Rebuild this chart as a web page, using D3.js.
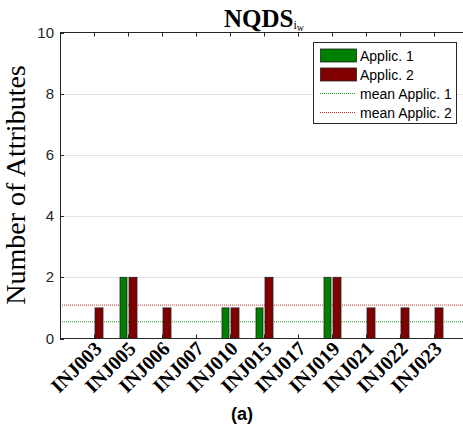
<!DOCTYPE html>
<html>
<head>
<meta charset="utf-8">
<script src="https://cdn.jsdelivr.net/npm/d3@7"></script>
<style>
  body { margin: 0; background: #fff; }
  svg { display: block; }
</style>
</head>
<body>
<svg id="chart"></svg>
<script>
var width = 463,
    height = 432

var categories = ["INJ003", "INJ005", "INJ006", "INJ007", "INJ010", "INJ015",
                  "INJ017", "INJ019", "INJ021", "INJ022", "INJ023"]
var applic1 = [0, 2, 0, 0, 1, 1, 0, 2, 0, 0, 0]
var applic2 = [1, 2, 1, 0, 1, 2, 0, 2, 1, 1, 1]
var yTicks = [0, 2, 4, 6, 8, 10]
var legendLabels = ["Applic. 1", "Applic. 2", "mean Applic. 1", "mean Applic. 2"]

var green = "#008000",
    red = "#800000",
    axisColor = "#262626"

var svg = d3.select("#chart")
    .attr("width", width)
    .attr("height", height)

var plotLeft = 60, plotRight = 468, plotTop = 32.5, plotBottom = 338.5

var x = d3.scalePoint()
    .domain(categories)
    .range([plotLeft, plotRight])
    .padding(1)

var y = d3.scaleLinear()
    .domain([0, 10])
    .range([plotBottom, plotTop])

// grid lines
svg.append("g")
    .selectAll("line")
    .data(yTicks.filter(function (d) { return d > 0 && d < 10 }))
    .enter().append("line")
    .attr("x1", plotLeft)
    .attr("x2", plotRight)
    .attr("y1", function (d) { return Math.round(y(d)) + 0.5 })
    .attr("y2", function (d) { return Math.round(y(d)) + 0.5 })
    .attr("stroke", "#e3e3e3")
    .attr("stroke-width", 1)

// mean lines
var mean1 = d3.mean(applic1),
    mean2 = d3.mean(applic2)
svg.append("line")
    .attr("x1", plotLeft).attr("x2", plotRight)
    .attr("y1", y(mean1)).attr("y2", y(mean1))
    .attr("stroke", "#1a9a1a")
    .attr("stroke-width", 1)
    .attr("stroke-dasharray", "1,1")
svg.append("line")
    .attr("x1", plotLeft).attr("x2", plotRight)
    .attr("y1", y(mean2)).attr("y2", y(mean2))
    .attr("stroke", "#c03030")
    .attr("stroke-width", 1)
    .attr("stroke-dasharray", "1,1")

// bars
var bars = svg.append("g")
bars.selectAll(".b1")
    .data(categories)
    .enter().append("rect")
    .attr("x", function (d) { return Math.round(x(d)) - 8 })
    .attr("y", function (d, i) { return y(applic1[i]) })
    .attr("width", 7)
    .attr("height", function (d, i) { return y(0) - y(applic1[i]) })
    .attr("fill", green)
    .attr("stroke", "#222")
    .attr("stroke-width", 0.8)
bars.selectAll(".b2")
    .data(categories)
    .enter().append("rect")
    .attr("x", function (d) { return Math.round(x(d)) + 1 })
    .attr("y", function (d, i) { return y(applic2[i]) })
    .attr("width", 8)
    .attr("height", function (d, i) { return y(0) - y(applic2[i]) })
    .attr("fill", red)
    .attr("stroke", "#222")
    .attr("stroke-width", 0.8)

// axes
var axisG = svg.append("g")
    .attr("stroke", axisColor)
    .attr("stroke-width", 1)
axisG.append("line").attr("x1", plotLeft).attr("x2", plotRight).attr("y1", plotBottom).attr("y2", plotBottom)
axisG.append("line").attr("x1", plotLeft).attr("x2", plotRight).attr("y1", plotTop).attr("y2", plotTop)
axisG.append("line").attr("x1", plotLeft + 0.5).attr("x2", plotLeft + 0.5).attr("y1", plotTop).attr("y2", plotBottom)

axisG.selectAll(".xt")
    .data(categories)
    .enter().append("line")
    .attr("x1", function (d) { return Math.round(x(d)) + 0.5 })
    .attr("x2", function (d) { return Math.round(x(d)) + 0.5 })
    .attr("y1", plotBottom).attr("y2", plotBottom - 4)
axisG.selectAll(".xtt")
    .data(categories)
    .enter().append("line")
    .attr("x1", function (d) { return Math.round(x(d)) + 0.5 })
    .attr("x2", function (d) { return Math.round(x(d)) + 0.5 })
    .attr("y1", plotTop).attr("y2", plotTop + 4)
axisG.selectAll(".yt")
    .data(yTicks)
    .enter().append("line")
    .attr("x1", plotLeft).attr("x2", plotLeft + 4)
    .attr("y1", function (d) { return Math.round(y(d)) + 0.5 })
    .attr("y2", function (d) { return Math.round(y(d)) + 0.5 })

// y tick labels
svg.append("g")
    .selectAll("text")
    .data(yTicks)
    .enter().append("text")
    .attr("x", plotLeft - 6)
    .attr("y", function (d) { return y(d) + 5 })
    .attr("text-anchor", "end")
    .attr("font-family", "Liberation Sans, Arial, sans-serif")
    .attr("font-size", 15)
    .attr("fill", axisColor)
    .text(function (d) { return d })

// x tick labels
svg.append("g")
    .selectAll("text")
    .data(categories)
    .enter().append("text")
    .attr("transform", function (d) { return "translate(" + (x(d) + 9) + "," + 350 + ") rotate(-45)" })
    .attr("text-anchor", "end")
    .attr("font-family", "Liberation Serif, Times New Roman, serif")
    .attr("font-weight", "bold")
    .attr("font-size", 20)
    .attr("fill", "#000")
    .text(function (d) { return d })

// y label
svg.append("text")
    .attr("transform", "translate(25,185) rotate(-90)")
    .attr("text-anchor", "middle")
    .attr("font-family", "Liberation Serif, Times New Roman, serif")
    .attr("font-size", 28)
    .attr("fill", "#000")
    .text("Number of Attributes")

// title
var title = svg.append("text")
    .attr("x", 264)
    .attr("y", 27)
    .attr("text-anchor", "middle")
    .attr("font-family", "Liberation Serif, Times New Roman, serif")
    .attr("font-weight", "bold")
    .attr("fill", "#000")
title.append("tspan").attr("font-size", 25).text("NQDS")
title.append("tspan").attr("font-size", 12).attr("font-weight", "normal").attr("dy", 2).text("i")
title.append("tspan").attr("font-size", 10).attr("font-weight", "normal").attr("dy", 2).text("w")

// legend
var lg = svg.append("g")
lg.append("rect")
    .attr("x", 313.5).attr("y", 42.5)
    .attr("width", 143).attr("height", 81)
    .attr("fill", "#fff")
    .attr("stroke", axisColor)
    .attr("stroke-width", 1)
var rowY = [55.5, 74.5, 93.5, 112.5]
var legendColors = [green, red, "#1a9a1a", "#c03030"]
legendLabels.forEach(function (lab, i) {
    if (i < 2) {
        lg.append("rect")
            .attr("x", 320.5).attr("y", rowY[i] - 6.5)
            .attr("width", 36).attr("height", 13)
            .attr("fill", legendColors[i])
            .attr("stroke", "#222")
            .attr("stroke-width", 0.8)
    } else {
        lg.append("line")
            .attr("x1", 320).attr("x2", 356)
            .attr("y1", rowY[i]).attr("y2", rowY[i])
            .attr("stroke", legendColors[i])
            .attr("stroke-width", 1)
            .attr("stroke-dasharray", "1,1")
    }
    lg.append("text")
        .attr("x", 360)
        .attr("y", rowY[i] + 5)
        .attr("font-family", "Liberation Sans, Arial, sans-serif")
        .attr("font-size", 14)
        .attr("fill", "#000")
        .text(lab)
})

// panel label
svg.append("text")
    .attr("x", 242)
    .attr("y", 420)
    .attr("text-anchor", "middle")
    .attr("font-family", "Liberation Sans, Arial, sans-serif")
    .attr("font-weight", "bold")
    .attr("font-size", 18)
    .attr("fill", "#000")
    .text("(a)")
</script>
</body>
</html>
